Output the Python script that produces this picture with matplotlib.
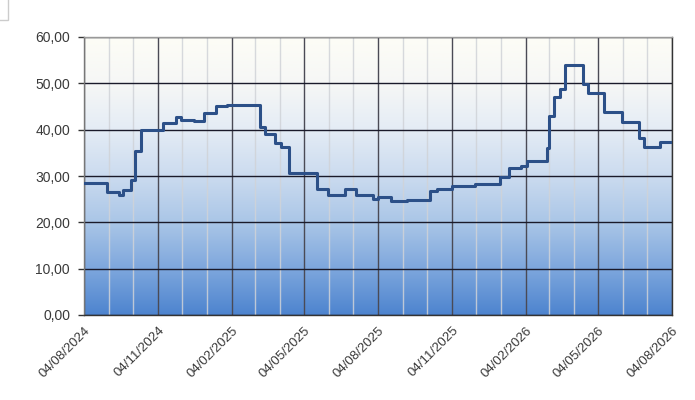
import numpy as np
import pandas as pd
import matplotlib
matplotlib.use("Agg")
import matplotlib.pyplot as plt
import matplotlib.dates as mdates
from matplotlib.colors import LinearSegmentedColormap
from matplotlib.patches import Rectangle

plt.rcParams["font.family"] = ["Liberation Sans", "DejaVu Sans"]

# step changes: date the value starts, value
dates = ["2024-08-04", "2024-09-02", "2024-09-17", "2024-09-22", "2024-10-01",
         "2024-10-06", "2024-10-14", "2024-11-10", "2024-11-26", "2024-12-03",
         "2024-12-18", "2024-12-31", "2025-01-15", "2025-01-28", "2025-03-11",
         "2025-03-17", "2025-03-29", "2025-04-06", "2025-04-15", "2025-05-20",
         "2025-06-03", "2025-06-24", "2025-07-08", "2025-07-29", "2025-08-04",
         "2025-08-20", "2025-09-09", "2025-10-08", "2025-10-16", "2025-11-04",
         "2025-12-02", "2026-01-02", "2026-01-14", "2026-01-29", "2026-02-05",
         "2026-03-02", "2026-03-04", "2026-03-11", "2026-03-18", "2026-03-24",
         "2026-04-15", "2026-04-22", "2026-05-12", "2026-06-03", "2026-06-24",
         "2026-06-30", "2026-07-20", "2026-08-04"]
values = [28.4, 26.6, 25.8, 27.0, 29.1,
          35.3, 39.9, 41.5, 42.8, 42.1,
          41.9, 43.5, 45.1, 45.3, 40.6,
          39.1, 37.2, 36.3, 30.7, 27.1,
          25.9, 27.3, 26.0, 25.0, 25.5,
          24.5, 24.8, 26.8, 27.1, 27.8,
          28.3, 29.7, 31.7, 32.2, 33.3,
          36.0, 43.0, 47.1, 48.7, 54.0,
          49.9, 47.9, 43.8, 41.6, 38.1,
          36.2, 37.4, 37.4]

x = pd.to_datetime(dates)

fig = plt.figure(figsize=(6.95, 4.0), dpi=100)
ax = fig.add_axes([84 / 695, 1 - 315 / 400, 588 / 695, 278 / 400])

# gradient background
grad = LinearSegmentedColormap.from_list(
    "bg", ["#4d84cf", "#7ea7dd", "#aac6e7", "#cbdbef", "#e4ecf5", "#f6f7f6", "#fdfdf6"])
ax.imshow(np.linspace(0, 1, 256).reshape(-1, 1), cmap=grad, origin="lower",
          aspect="auto", extent=[0, 1, 0, 1], transform=ax.transAxes, zorder=0)

ax.plot(x, values, drawstyle="steps-post", color="#2c5088", lw=2.2, zorder=3)

ax.set_xlim(pd.Timestamp("2024-08-04"), pd.Timestamp("2026-08-04"))
ax.set_ylim(0, 60)
ax.set_yticks(np.arange(0, 61, 10))
ax.set_yticklabels([f"{v:.2f}".replace(".", ",") for v in np.arange(0, 61, 10)])

ax.xaxis.set_major_locator(mdates.MonthLocator(bymonth=[2, 5, 8, 11], bymonthday=4))
ax.xaxis.set_minor_locator(mdates.MonthLocator(bymonthday=4))
ax.xaxis.set_major_formatter(mdates.DateFormatter("%d/%m/%Y"))

ax.grid(True, which="major", axis="y", color="#1a1a2a", lw=1.0, zorder=1)
ax.grid(True, which="major", axis="x", color="#4a4a55", lw=1.0, zorder=1)
ax.grid(True, which="minor", axis="x", color="#d0d3d8", lw=1.0, alpha=0.85, zorder=1)
ax.set_axisbelow(True)

for lbl in ax.get_xticklabels():
    lbl.set_rotation(45)
    lbl.set_ha("right")
    lbl.set_va("top")
    lbl.set_rotation_mode("anchor")

ax.tick_params(axis="y", length=4, width=1, color="#333333", labelsize=10,
               labelcolor="#3a3a3a", pad=6)
ax.tick_params(axis="x", which="major", length=0, labelsize=9.5,
               labelcolor="#3a3a3a", pad=7)
ax.tick_params(axis="x", which="minor", length=0)

for side in ["left", "right", "top", "bottom"]:
    ax.spines[side].set_color("#333333")
    ax.spines[side].set_linewidth(1.0)
ax.spines["left"].set_color("#777777")
ax.spines["top"].set_color("#999999")

fig.patches.append(Rectangle((-0.01, 1 - 20 / 400), 0.01 + 8 / 695, 0.06,
                             transform=fig.transFigure, fill=False,
                             edgecolor="#cccccc", lw=1))

fig.savefig("out.png", dpi=100)
